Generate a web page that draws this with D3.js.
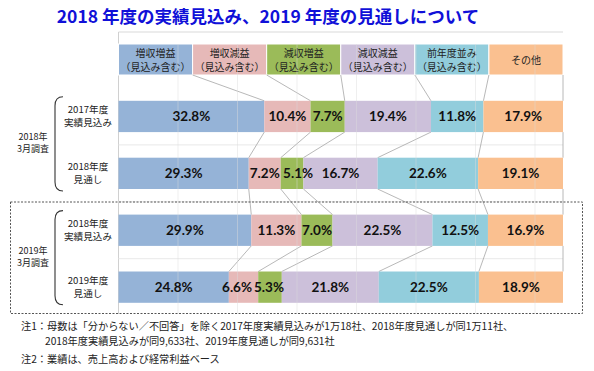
<!DOCTYPE html>
<html><head><meta charset="utf-8">
<script src="https://cdn.jsdelivr.net/npm/d3@7"></script>
<style>
html,body{margin:0;padding:0;background:#fff;}
svg{display:block;}
</style>
</head><body>
<svg id="chart" width="594" height="371"></svg>
<script>
// ---- data ----
const title = "2018 年度の実績見込み、2019 年度の見通しについて";
const categories = ["増収増益","増収減益","減収増益","減収減益","前年度並み","その他"];
const categorySub = ["（見込み含む）","（見込み含む）","（見込み含む）","（見込み含む）","（見込み含む）",""];
const colors = ["#95B3D7","#E6B9B8","#9BBB59","#CCC0DA","#92CDDC","#FAC090"];
const rowLabels = [["2017年度","実績見込み"],["2018年度","見通し"],["2018年度","実績見込み"],["2019年度","見通し"]];
const groupLabels = [["2018年","3月調査"],["2019年","3月調査"]];
const groupRows = [[0,1],[2,3]];
const fy2017Actual = [32.8,10.4,7.7,19.4,11.8,17.9];
const fy2018Forecast = [29.3,7.2,5.1,16.7,22.6,19.1];
const fy2018Actual = [29.9,11.3,7.0,22.5,12.5,16.9];
const fy2019Forecast = [24.8,6.6,5.3,21.8,22.5,18.9];
const rowsData = [fy2017Actual,fy2018Forecast,fy2018Actual,fy2019Forecast];
const notes = [
  "注1：母数は「分からない／不回答」を除く2017年度実績見込みが1万18社、2018年度見通しが同1万11社、",
  "2018年度実績見込みが同9,633社、2019年度見通しが同9,631社",
  "注2：業績は、売上高および経常利益ベース"
];

// ---- layout ----
const svg = d3.select("#chart");
const jp = "'Noto Sans CJK JP','Noto Sans',sans-serif";
const x = d3.scaleLinear().domain([0,100]).range([118.5,563]);
const y = d3.scaleBand().domain(d3.range(rowsData.length)).range([88,315.6]).paddingInner(0.45).paddingOuter(0.225);
const hx = d3.scaleBand().domain(d3.range(categories.length)).range([118.5,563]);
const headTop = 44, headBot = 75;

// stacked (normalised like a 100% stacked bar)
const stacks = rowsData.map(vals => {
  const tot = d3.sum(vals);
  let c = 0;
  return vals.map((v,i) => { const s = c; c += v/tot*100; return {i, v, s, e: c}; });
});

// title
svg.append("text").attr("x",268).attr("y",23).attr("text-anchor","middle")
  .attr("font-family",jp).attr("font-weight","bold").attr("font-size",17.5)
  .attr("fill","#1010D8").text(title);

// frame lines
svg.append("line").attr("x1",118.5).attr("x2",563).attr("y1",32).attr("y2",32).attr("stroke","#d9d9d9");
svg.append("line").attr("x1",118.5).attr("x2",118.5).attr("y1",32).attr("y2",314).attr("stroke","#d0d0d0");

// horizontal faint gridlines at category boundaries
[1,2,3].forEach(k => {
  const yy = y(k) - y.step()*y.paddingInner()/2;
  svg.append("line").attr("x1",118.5).attr("x2",563).attr("y1",yy).attr("y2",yy).attr("stroke","#e9e9e9");
});

// header cells
const hg = svg.append("g");
categories.forEach((c,i) => {
  hg.append("rect").attr("x",hx(i)).attr("y",headTop).attr("width",hx.bandwidth()).attr("height",headBot-headTop)
    .attr("fill",colors[i]).attr("stroke","#fff").attr("stroke-width",1);
  const cx = hx(i)+hx.bandwidth()/2;
  if (categorySub[i]) {
    hg.append("text").attr("x",cx).attr("y",56.5).attr("text-anchor","middle").attr("font-family",jp).attr("font-size",10).attr("fill","#222").text(c);
    hg.append("text").attr("x",cx).attr("y",70.5).attr("text-anchor","middle").attr("font-family",jp).attr("font-size",10).attr("fill","#222").text(categorySub[i]);
  } else {
    hg.append("text").attr("x",cx).attr("y",63.5).attr("text-anchor","middle").attr("font-family",jp).attr("font-size",10).attr("fill","#222").text(c);
  }
});

// series lines
const lg = svg.append("g").attr("stroke","#a6a6a6").attr("stroke-width",0.8);
for (let k=1;k<=categories.length;k++){
  lg.append("line").attr("x1",k<categories.length? hx(k): 563).attr("y1",headBot)
    .attr("x2",x(stacks[0][k-1].e)).attr("y2",y(0));
}
for (let r=0;r<stacks.length-1;r++){
  for (let k=0;k<categories.length;k++){
    lg.append("line").attr("x1",x(stacks[r][k].e)).attr("y1",y(r)+y.bandwidth())
      .attr("x2",x(stacks[r+1][k].e)).attr("y2",y(r+1));
  }
}

// bars
const bg = svg.append("g");
stacks.forEach((row,r) => {
  row.forEach(d => {
    bg.append("rect").attr("x",x(d.s)).attr("y",y(r)).attr("width",x(d.e)-x(d.s)).attr("height",y.bandwidth())
      .attr("fill",colors[d.i]);
  });
});

// vertical faint gridlines (drawn on top)
for (let k=1;k<=7;k++){
  const xx = 118.5 + 59.5*k;
  svg.append("line").attr("x1",xx).attr("x2",xx).attr("y1",headTop).attr("y2",314)
    .attr("stroke","#dcdcdc").attr("stroke-opacity",0.45);
}

// value labels
const labelShift = {"1-2":6,"3-1":-6.5,"3-2":-1};
stacks.forEach((row,r) => {
  row.forEach(d => {
    const sh = labelShift[r+"-"+d.i] || 0;
    svg.append("text").attr("x",(x(d.s)+x(d.e))/2 + sh).attr("y",y(r)+y.bandwidth()/2+4.8)
      .attr("text-anchor","middle").attr("font-family","Lato,'Open Sans',sans-serif").attr("font-weight","bold")
      .attr("font-size",13.5).attr("fill","#111").text(d.v.toFixed(1)+"%");
  });
});

// row labels
rowLabels.forEach((lab,r) => {
  const cy = y(r)+y.bandwidth()/2;
  svg.append("text").attr("x",88).attr("y",cy-3).attr("text-anchor","middle").attr("font-family",jp).attr("font-size",9.6).attr("fill","#222").text(lab[0]);
  svg.append("text").attr("x",88).attr("y",cy+9.5).attr("text-anchor","middle").attr("font-family",jp).attr("font-size",9.6).attr("fill","#222").text(lab[1]);
});

// group brackets & labels
groupRows.forEach((rows,g) => {
  const top = y(rows[0]) - 4, bot = y(rows[1]) + y.bandwidth() + 2;
  svg.append("path").attr("d",`M63,${top} Q55,${top} 55,${top+9} L55,${bot-9} Q55,${bot} 63,${bot}`)
    .attr("fill","none").attr("stroke","#333").attr("stroke-width",1.1);
  const cy = (top+bot)/2;
  svg.append("text").attr("x",33).attr("y",cy-3.5).attr("text-anchor","middle").attr("font-family",jp).attr("font-size",9).attr("fill","#222").text(groupLabels[g][0]);
  svg.append("text").attr("x",33).attr("y",cy+8.5).attr("text-anchor","middle").attr("font-family",jp).attr("font-size",9).attr("fill","#222").text(groupLabels[g][1]);
});

// dashed box around second group
svg.append("rect").attr("x",10.5).attr("y",202).attr("width",572).attr("height",111.5)
  .attr("fill","none").attr("stroke","#555").attr("stroke-width",1).attr("stroke-dasharray","2,1.5");

// notes
svg.append("text").attr("x",21).attr("y",330).attr("font-family",jp).attr("font-size",10.2).attr("fill","#222").text(notes[0]);
svg.append("text").attr("x",45).attr("y",345).attr("font-family",jp).attr("font-size",10.2).attr("fill","#222").text(notes[1]);
svg.append("text").attr("x",21).attr("y",363).attr("font-family",jp).attr("font-size",10.2).attr("fill","#222").text(notes[2]);
</script>
</body></html>
